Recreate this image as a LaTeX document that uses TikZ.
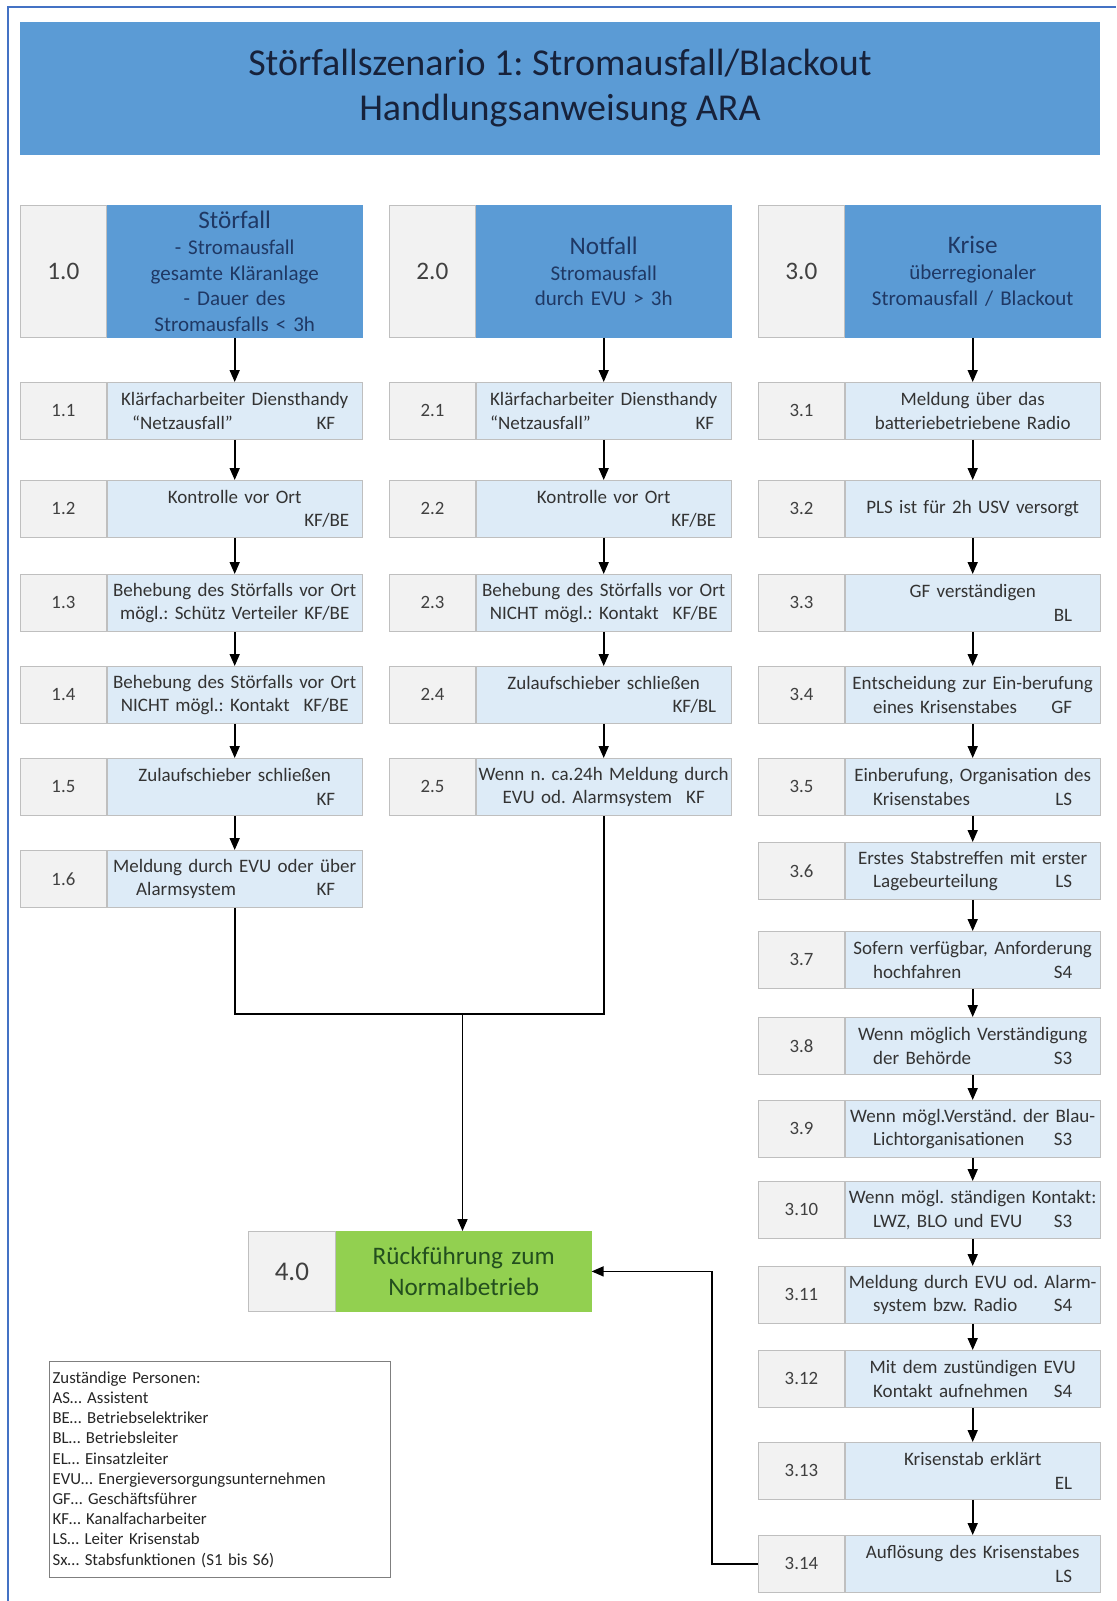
\documentclass[tikz,border=0pt]{standalone}
\usepackage{fontspec}
\setmainfont{Carlito}
\usetikzlibrary{arrows.meta}
\frenchspacing
\definecolor{headblue}{HTML}{5B9BD5}
\definecolor{headtext}{HTML}{1F3864}
\definecolor{titletext}{HTML}{17223B}
\definecolor{steplight}{HTML}{DDEBF7}
\definecolor{steptext}{HTML}{333333}
\definecolor{numgray}{HTML}{F2F2F2}
\definecolor{numtext}{HTML}{404040}
\definecolor{boxgray}{HTML}{BFBFBF}
\definecolor{okgreen}{HTML}{92D050}
\definecolor{oktext}{HTML}{234F1E}
\definecolor{framblue}{HTML}{4472C4}
\definecolor{legendgray}{HTML}{7F7F7F}
% role code pushed to the right end, indent for the second line
\newcommand{\resp}[2][13pt]{\hfill#2\hspace*{#1}}
\newcommand{\lft}[1][13pt]{\hspace*{#1}}
\begin{document}
\begin{tikzpicture}[x=0.5pt,y=-0.5pt,
  numbox/.style={draw=boxgray,fill=numgray,minimum width=43pt,minimum height=28.5pt,
    inner sep=0pt,text=numtext,font=\fontsize{9.4}{11}\selectfont,anchor=north west},
  stepbox/.style={draw=boxgray,fill=steplight,minimum width=127.5pt,minimum height=28.5pt,
    text width=125.5pt,inner xsep=1pt,inner ysep=0pt,align=center,text=steptext,
    font=\fontsize{9.5}{11.75}\selectfont,anchor=north west},
  headnum/.style={numbox,minimum height=66pt,font=\fontsize{12.6}{14}\selectfont},
  headbox/.style={stepbox,fill=headblue,draw=headblue,minimum height=66pt,text=headtext,
    font=\fontsize{10.5}{12.9}\selectfont},
  endnum/.style={numbox,minimum width=43.5pt,minimum height=40pt,font=\fontsize{13.5}{15}\selectfont},
  endbox/.style={stepbox,fill=okgreen,draw=okgreen,minimum height=40pt,text=oktext,
    font=\fontsize{12.6}{15.3}\selectfont},
  titlebox/.style={fill=headblue,minimum width=540pt,minimum height=66.5pt,align=center,
    text=titletext,font=\fontsize{19}{22.5}\selectfont},
  legendbox/.style={draw=legendgray,line width=0.6pt,fill=white,minimum height=108pt,
    text width=167.5pt,inner xsep=1.5pt,align=left,text=black!85,
    font=\fontsize{8.4}{10.1}\selectfont,anchor=north west},
  flow/.style={-{Triangle[length=6pt,width=5pt]},line width=0.8pt},
  link/.style={line width=0.8pt}]
\useasboundingbox (0,0) rectangle (1116,1601);
\draw[framblue,line width=0.9pt] (8,1601) -- (8,7) -- (1116,7);

% title
\node[titlebox] (title) at (560,88.5) {Störfallszenario 1: Stromausfall/Blackout\\Handlungsanweisung ARA};

% headers
\node[headnum] (n10) at (20,205) {1.0};
\node[headbox] (h1) at (n10.north east) {{\fontsize{12.6}{13}\selectfont Störfall}\\- Stromausfall\\gesamte Kläranlage\\- Dauer des\\Stromausfalls < 3h};
\node[headnum] (n20) at (389,205) {2.0};
\node[headbox] (h2) at (n20.north east) {{\fontsize{12.6}{13}\selectfont Notfall}\\Stromausfall\\durch EVU > 3h};
\node[headnum] (n30) at (758,205) {3.0};
\node[headbox] (h3) at (n30.north east) {{\fontsize{12.6}{13}\selectfont Krise}\\überregionaler\\Stromausfall / Blackout};

% column 1
\node[numbox] (n11) at (20,382) {1.1};
\node[stepbox] (s11) at (n11.north east) {Klärfacharbeiter Diensthandy\\\lft[11.5pt]“Netzausfall”\resp[12.5pt]{KF}};
\node[numbox] (n12) at (20,480) {1.2};
\node[stepbox] (s12) at (n12.north east) {Kontrolle vor Ort\\\resp[5.5pt]{KF/BE}};
\node[numbox] (n13) at (20,574) {1.3};
\node[stepbox] (s13) at (n13.north east) {Behebung des Störfalls vor Ort\\mögl.: Schütz Verteiler KF/BE};
\node[numbox] (n14) at (20,666) {1.4};
\node[stepbox] (s14) at (n14.north east) {Behebung des Störfalls vor Ort\\NICHT mögl.: Kontakt\hspace{7pt}KF/BE};
\node[numbox] (n15) at (20,758) {1.5};
\node[stepbox] (s15) at (n15.north east) {Zulaufschieber schließen\\\resp[12.5pt]{KF}};
\node[numbox] (n16) at (20,850) {1.6};
\node[stepbox] (s16) at (n16.north east) {Meldung durch EVU oder über\\\lft[13.5pt]Alarmsystem\resp[12.5pt]{KF}};

% column 2
\node[numbox] (n21) at (389,382) {2.1};
\node[stepbox] (s21) at (n21.north east) {Klärfacharbeiter Diensthandy\\\lft[6pt]“Netzausfall”\resp[7.5pt]{KF}};
\node[numbox] (n22) at (389,480) {2.2};
\node[stepbox] (s22) at (n22.north east) {Kontrolle vor Ort\\\resp[6.5pt]{KF/BE}};
\node[numbox] (n23) at (389,574) {2.3};
\node[stepbox] (s23) at (n23.north east) {Behebung des Störfalls vor Ort\\NICHT mögl.: Kontakt\hspace{7pt}KF/BE};
\node[numbox] (n24) at (389,666) {2.4};
\node[stepbox] (s24) at (n24.north east) {Zulaufschieber schließen\\\resp[6.5pt]{KF/BL}};
\node[numbox] (n25) at (389,758) {2.5};
\node[stepbox] (s25) at (n25.north east) {Wenn n. ca.24h Meldung durch\\EVU od. Alarmsystem\hspace{7pt}KF};

% column 3
\node[numbox] (n31) at (758,382) {3.1};
\node[stepbox] (s31) at (n31.north east) {Meldung über das\\batteriebetriebene Radio};
\node[numbox] (n32) at (758,480) {3.2};
\node[stepbox] (s32) at (n32.north east) {PLS ist für 2h USV versorgt};
\node[numbox] (n33) at (758,574) {3.3};
\node[stepbox] (s33) at (n33.north east) {GF verständigen\\\resp{BL}};
\node[numbox] (n34) at (758,666) {3.4};
\node[stepbox] (s34) at (n34.north east) {Entscheidung zur Ein-berufung\\\lft eines Krisenstabes\resp{GF}};
\node[numbox] (n35) at (758,758) {3.5};
\node[stepbox] (s35) at (n35.north east) {Einberufung, Organisation des\\\lft Krisenstabes\resp{LS}};
\node[numbox] (n36) at (758,842) {3.6};
\node[stepbox] (s36) at (n36.north east) {Erstes Stabstreffen mit erster\\\lft Lagebeurteilung\resp{LS}};
\node[numbox] (n37) at (758,931) {3.7};
\node[stepbox] (s37) at (n37.north east) {Sofern verfügbar, Anforderung\\\lft hochfahren\resp{S4}};
\node[numbox] (n38) at (758,1017) {3.8};
\node[stepbox] (s38) at (n38.north east) {Wenn möglich Verständigung\\\lft der Behörde\resp{S3}};
\node[numbox] (n39) at (758,1100) {3.9};
\node[stepbox] (s39) at (n39.north east) {Wenn mögl.Verständ. der Blau-\\\lft Lichtorganisationen\resp{S3}};
\node[numbox] (n310) at (758,1181) {3.10};
\node[stepbox] (s310) at (n310.north east) {Wenn mögl. ständigen Kontakt:\\\lft LWZ, BLO und EVU\resp{S3}};
\node[numbox] (n311) at (758,1266) {3.11};
\node[stepbox] (s311) at (n311.north east) {Meldung durch EVU od. Alarm-\\\lft system bzw. Radio\resp{S4}};
\node[numbox] (n312) at (758,1350) {3.12};
\node[stepbox] (s312) at (n312.north east) {Mit dem zustündigen EVU\\\lft Kontakt aufnehmen\resp{S4}};
\node[numbox] (n313) at (758,1442) {3.13};
\node[stepbox] (s313) at (n313.north east) {Krisenstab erklärt\\\resp{EL}};
\node[numbox] (n314) at (758,1535) {3.14};
\node[stepbox] (s314) at (n314.north east) {Auflösung des Krisenstabes\\\resp{LS}};

% end state
\node[endnum] (n40) at (248,1231) {4.0};
\node[endbox] (s40) at (n40.north east) {Rückführung zum\\Normalbetrieb};

% legend
\node[legendbox] (legend) at (49,1361) {Zuständige Personen:\\AS… Assistent\\BE… Betriebselektriker\\BL… Betriebsleiter\\EL… Einsatzleiter\\EVU… Energieversorgungsunternehmen\\GF… Geschäftsführer\\KF… Kanalfacharbeiter\\LS… Leiter Krisenstab\\Sx… Stabsfunktionen (S1 bis S6)};

% arrows column 1
\draw[flow] (h1.south) -- (s11.north);
\draw[flow] (s11.south) -- (s12.north);
\draw[flow] (s12.south) -- (s13.north);
\draw[flow] (s13.south) -- (s14.north);
\draw[flow] (s14.south) -- (s15.north);
\draw[flow] (s15.south) -- (s16.north);
% arrows column 2
\draw[flow] (h2.south) -- (s21.north);
\draw[flow] (s21.south) -- (s22.north);
\draw[flow] (s22.south) -- (s23.north);
\draw[flow] (s23.south) -- (s24.north);
\draw[flow] (s24.south) -- (s25.north);
% arrows column 3
\draw[flow] (h3.south) -- (s31.north);
\draw[flow] (s31.south) -- (s32.north);
\draw[flow] (s32.south) -- (s33.north);
\draw[flow] (s33.south) -- (s34.north);
\draw[flow] (s34.south) -- (s35.north);
\draw[flow] (s35.south) -- (s36.north);
\draw[flow] (s36.south) -- (s37.north);
\draw[flow] (s37.south) -- (s38.north);
\draw[flow] (s38.south) -- (s39.north);
\draw[flow] (s39.south) -- (s310.north);
\draw[flow] (s310.south) -- (s311.north);
\draw[flow] (s311.south) -- (s312.north);
\draw[flow] (s312.south) -- (s313.north);
\draw[flow] (s313.south) -- (s314.north);

% back to normal operation
\coordinate (join) at (462.5,1014);
\draw[link] (s16.south) |- (join) -| (s25.south);
\draw[flow] (join) -- (join |- s40.north);
\coordinate (back) at (712,0);
\draw[flow] (n314.west) -| (back |- s40.east) -- (s40.east);
\end{tikzpicture}
\end{document}
